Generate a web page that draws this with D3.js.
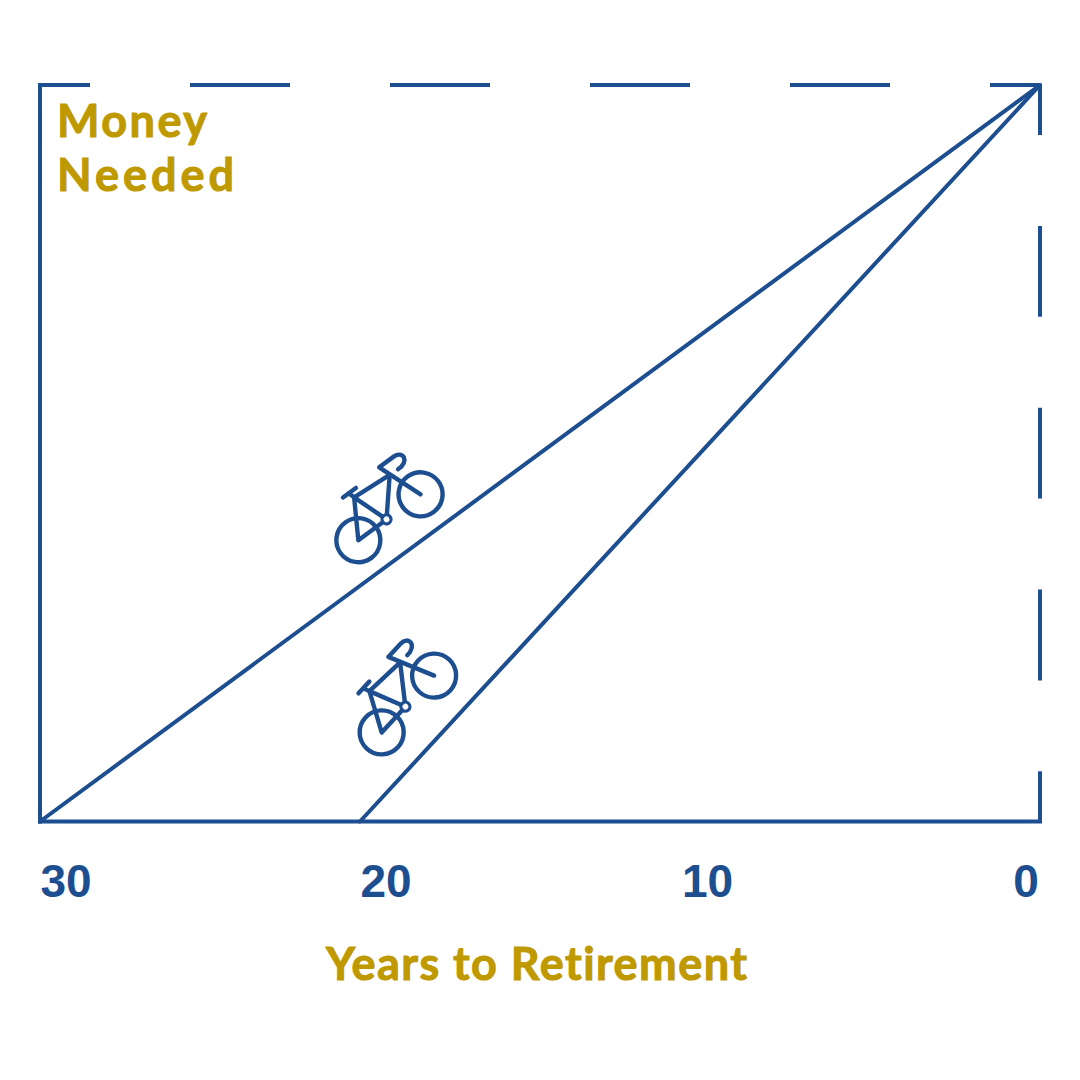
<!DOCTYPE html>
<html>
<head>
<meta charset="utf-8">
<script src="https://cdn.jsdelivr.net/npm/d3@7"></script>
<style>html,body{margin:0;padding:0;background:#fff}svg{display:block}text{font-variant-ligatures:none;font-feature-settings:"liga" 0,"clig" 0}</style>
</head>
<body>
<script>
const tickLabels = ["30", "20", "10", "0"];
const yAxisTitle = ["Money", "Needed"];
const xAxisTitle = "Years to Retirement";
const lineStartYears = [30, 20.4];
const lineEndYears = [0, 0];
const bikeYears = [20.45, 19.75];
const bikeMoney = [38.2, 12.1];

const blue = "#1D4E8F", gold = "#BF9900";
const svg = d3.select("body").append("svg").attr("width", 1080).attr("height", 1080);
const x = d3.scaleLinear().domain([30, 0]).range([40, 1040]);
const y = d3.scaleLinear().domain([0, 100]).range([821.5, 85]);
const tickX = d3.scalePoint().domain(tickLabels).range([66, 1026]);

const frame = svg.append("g").attr("fill", "none").attr("stroke", blue).attr("stroke-width", 4);
frame.append("line").attr("x1", x(30)).attr("x2", x(30)).attr("y1", y(0)).attr("y2", y(100)).attr("stroke-linecap", "square");
frame.append("line").attr("x1", x(30)).attr("x2", x(0)).attr("y1", y(0)).attr("y2", y(0)).attr("stroke-linecap", "square");
frame.append("line").attr("x1", x(30)).attr("x2", x(0)).attr("y1", y(100)).attr("y2", y(100))
  .attr("stroke-dasharray", "100 100").attr("stroke-dashoffset", 50);
frame.append("line").attr("x1", x(0)).attr("x2", x(0)).attr("y1", y(100)).attr("y2", y(0))
  .attr("stroke-dasharray", "90.9 90.9").attr("stroke-dashoffset", 40.9);

svg.append("g").selectAll("line").data(lineStartYears).join("line")
  .attr("x1", d => x(d)).attr("y1", y(0))
  .attr("x2", (d, i) => x(lineEndYears[i])).attr("y2", y(100))
  .attr("stroke", blue).attr("stroke-width", 4).attr("stroke-linecap", "round");

// Bicycle icon, level, in its own units: rear axle at the origin
const icon = [
  "M0 0L22 -37L35 0L64 -34L22 -37M0 0L35 0",
  "M22 -37L20 -43.5M13 -43.5L29 -43.5",
  "M77.3 0L60 -46.3L78 -46.3C89 -46.3 89 -33 74 -33.5"
];
const bikes = svg.append("g").selectAll("g").data(bikeYears).join("g")
  .attr("transform", (d, i) => {
    const a = Math.atan2(y(100) - y(0), x(lineEndYears[i]) - x(lineStartYears[i])) * 180 / Math.PI;
    return `translate(${x(d)},${y(bikeMoney[i])}) rotate(${a})`;
  })
  .attr("fill", "none").attr("stroke", blue).attr("stroke-width", 4.4)
  .attr("stroke-linecap", "round").attr("stroke-linejoin", "round");
bikes.append("circle").attr("r", 22);
bikes.append("circle").attr("cx", 77.3).attr("r", 22);
bikes.append("circle").attr("cx", 35).attr("r", 4.5).attr("fill", "#fff").attr("stroke-width", 3.2);
bikes.selectAll("path").data(icon).join("path").attr("d", d => d);
bikes.selectAll("circle").raise();

svg.append("g").selectAll("text").data(tickLabels).join("text")
  .attr("x", d => tickX(d) + (d === "10" ? 1.5 : 0)).attr("y", 897).attr("text-anchor", "middle")
  .attr("font-family", "Liberation Sans").attr("font-weight", 700).attr("font-size", 46)
  .attr("fill", blue).text(d => d);

const titleFont = "Lato";
const titles = svg.append("g").attr("font-family", titleFont).attr("font-weight", 700).attr("font-size", 45)
  .attr("fill", gold).attr("stroke", gold).attr("stroke-width", 1);
titles.selectAll("text.y").data(yAxisTitle).join("text").attr("class", "y")
  .attr("x", 57).attr("y", (d, i) => 137 + i * 54)
  .attr("textLength", (d, i) => [150, 177][i]).attr("lengthAdjust", "spacing").text(d => d);
titles.append("text").attr("x", 326).attr("y", 979.5)
  .attr("textLength", 421).attr("lengthAdjust", "spacing").text(xAxisTitle);
</script>
</body>
</html>
